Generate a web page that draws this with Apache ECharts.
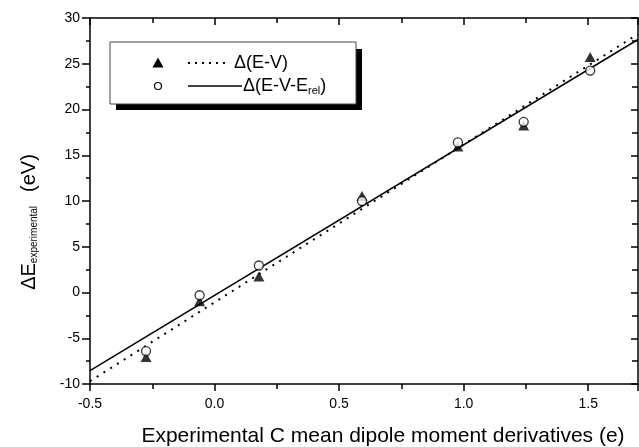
<!DOCTYPE html>
<html>
<head>
<meta charset="utf-8">
<script src="https://cdn.jsdelivr.net/npm/echarts@6/dist/echarts.min.js"></script>
<style>
html,body{margin:0;padding:0;background:#fff;}
#chart{width:639px;height:447px;}
</style>
</head>
<body>
<div id="chart"></div>
<script>
// ---- data ----
const dipoleX = [-0.275, -0.06, 0.178, 0.592, 0.977, 1.241, 1.508];
const deltaEV = [-7.05, -0.95, 1.75, 10.55, 15.95, 18.25, 25.75];
const deltaEVrel = [-6.4, -0.3, 2.95, 10.0, 16.4, 18.65, 24.25];
const fitX = [-0.5, 1.7];
const fitEV = [-9.7, 28.25];
const fitEVrel = [-8.55, 27.65];
const xTicks = { min: -0.5, max: 1.7, interval: 0.5 };
const yTicks = { min: -10, max: 30, interval: 5 };
const legendNames = ['\u0394(E-V)', '\u0394(E-V-E{sub|rel})'];
const xTitle = 'Experimental C mean dipole moment derivatives (e)';
const yTitleParts = ['\u0394E', 'experimental', '(eV)'];

const FONT = '"Liberation Sans", Arial, Helvetica, sans-serif';
const pairs = (xs, ys) => xs.map((x, i) => [x, ys[i]]);

const chart = echarts.init(document.getElementById('chart'), null, { renderer: 'canvas' });

const axisLine = { show: true, onZero: false, lineStyle: { color: '#000', width: 1.5 } };

const option = {
  animation: false,
  backgroundColor: '#fff',
  grid: { left: 90, right: 1, top: 18, bottom: 63, containLabel: false },
  xAxis: [
    {
      type: 'value', position: 'bottom', min: xTicks.min, max: xTicks.max, interval: xTicks.interval,
      axisLine: axisLine,
      axisTick: { show: true, inside: false, length: 7, lineStyle: { color: '#000', width: 1.5 } },
      minorTick: { show: true, splitNumber: 2, length: 5, lineStyle: { color: '#000', width: 1.5 } },
      splitLine: { show: false },
      axisLabel: { show: true, margin: 13, color: '#000', fontSize: 14, fontFamily: FONT,
        showMaxLabel: false, formatter: v => v.toFixed(1) }
    },
    {
      type: 'value', position: 'top', min: xTicks.min, max: xTicks.max, interval: xTicks.interval,
      axisLine: axisLine,
      axisTick: { show: true, inside: true, length: 7, lineStyle: { color: '#000', width: 1.5 } },
      minorTick: { show: true, splitNumber: 2, length: 5, lineStyle: { color: '#000', width: 1.5 } },
      splitLine: { show: false },
      axisLabel: { show: false }
    }
  ],
  yAxis: [
    {
      type: 'value', position: 'left', min: yTicks.min, max: yTicks.max, interval: yTicks.interval,
      axisLine: axisLine,
      axisTick: { show: true, inside: false, length: 8, lineStyle: { color: '#000', width: 1.5 } },
      minorTick: { show: true, splitNumber: 2, length: 4, lineStyle: { color: '#000', width: 1.5 } },
      splitLine: { show: false },
      axisLabel: { show: true, margin: 10, color: '#000', fontSize: 14, fontFamily: FONT }
    },
    {
      type: 'value', position: 'right', min: yTicks.min, max: yTicks.max, interval: yTicks.interval,
      axisLine: axisLine,
      axisTick: { show: true, inside: true, length: 7, lineStyle: { color: '#000', width: 1.5 } },
      minorTick: { show: true, splitNumber: 2, length: 6, lineStyle: { color: '#000', width: 1.5 } },
      splitLine: { show: false },
      axisLabel: { show: false }
    }
  ],
  series: [
    {
      name: 'fitEV', type: 'line', data: pairs(fitX, fitEV), showSymbol: false, symbol: 'none',
      lineStyle: { color: '#000', width: 2, type: [2, 6] }, z: 2, silent: true
    },
    {
      name: 'fitEVrel', type: 'line', data: pairs(fitX, fitEVrel), showSymbol: false, symbol: 'none',
      lineStyle: { color: '#000', width: 1.5, type: 'solid' }, z: 2, silent: true
    },
    {
      name: 'EV', type: 'scatter', data: pairs(dipoleX, deltaEV), symbol: 'triangle', symbolSize: [11, 10],
      itemStyle: { color: '#000' }, z: 3
    },
    {
      name: 'EVrel', type: 'scatter', data: pairs(dipoleX, deltaEVrel), symbol: 'circle', symbolSize: 9,
      itemStyle: { color: '#fff', borderColor: '#000', borderWidth: 1.3 }, z: 4
    }
  ],
  graphic: [
    // legend shadow & box
    { type: 'rect', shape: { x: 116, y: 49, width: 246, height: 61 }, style: { fill: '#000' }, z: 10 },
    { type: 'rect', shape: { x: 110, y: 42, width: 246, height: 62 }, style: { fill: '#fff', stroke: '#444', lineWidth: 1 }, z: 11 },
    { type: 'polygon', shape: { points: [[158, 57.5], [152.5, 67.5], [163.5, 67.5]] }, style: { fill: '#000' }, z: 12 },
    { type: 'line', shape: { x1: 188, y1: 63, x2: 228, y2: 63 }, style: { stroke: '#000', lineWidth: 2, lineDash: [2, 5] }, z: 12 },
    { type: 'text', x: 234, y: 63, style: { text: legendNames[0], font: '18px ' + FONT, fill: '#000', verticalAlign: 'middle', align: 'left' }, z: 12 },
    { type: 'circle', shape: { cx: 158, cy: 86, r: 3.5 }, style: { fill: '#fff', stroke: '#000', lineWidth: 1.2 }, z: 12 },
    { type: 'line', shape: { x1: 188, y1: 86, x2: 242, y2: 86 }, style: { stroke: '#000', lineWidth: 1.5 }, z: 12 },
    { type: 'text', x: 243, y: 86, style: {
        text: legendNames[1], font: '18px ' + FONT, fill: '#000', verticalAlign: 'middle', align: 'left',
        rich: { sub: { fontSize: 11, fontFamily: FONT, verticalAlign: 'bottom', padding: [10, 0, 0, 0] } }
      }, z: 12 },
    // x axis title
    { type: 'text', x: 383, y: 436, style: { text: xTitle, font: '21px ' + FONT, fill: '#000', align: 'center', verticalAlign: 'middle' }, z: 12 },
    // y axis title (rotated)
    { type: 'text', x: 29, y: 222, rotation: Math.PI / 2, style: {
        text: yTitleParts[0] + '{sub|' + yTitleParts[1] + '}{sp| }' + yTitleParts[2],
        font: '20px ' + FONT, fill: '#000', align: 'center', verticalAlign: 'middle',
        rich: {
          sub: { fontSize: 10, fontFamily: FONT, verticalAlign: 'bottom', padding: [10, 0, 0, 0] },
          sp: { fontSize: 20, fontFamily: FONT, width: 14 }
        }
      }, z: 12 }
  ]
};
chart.setOption(option);
</script>
</body>
</html>
